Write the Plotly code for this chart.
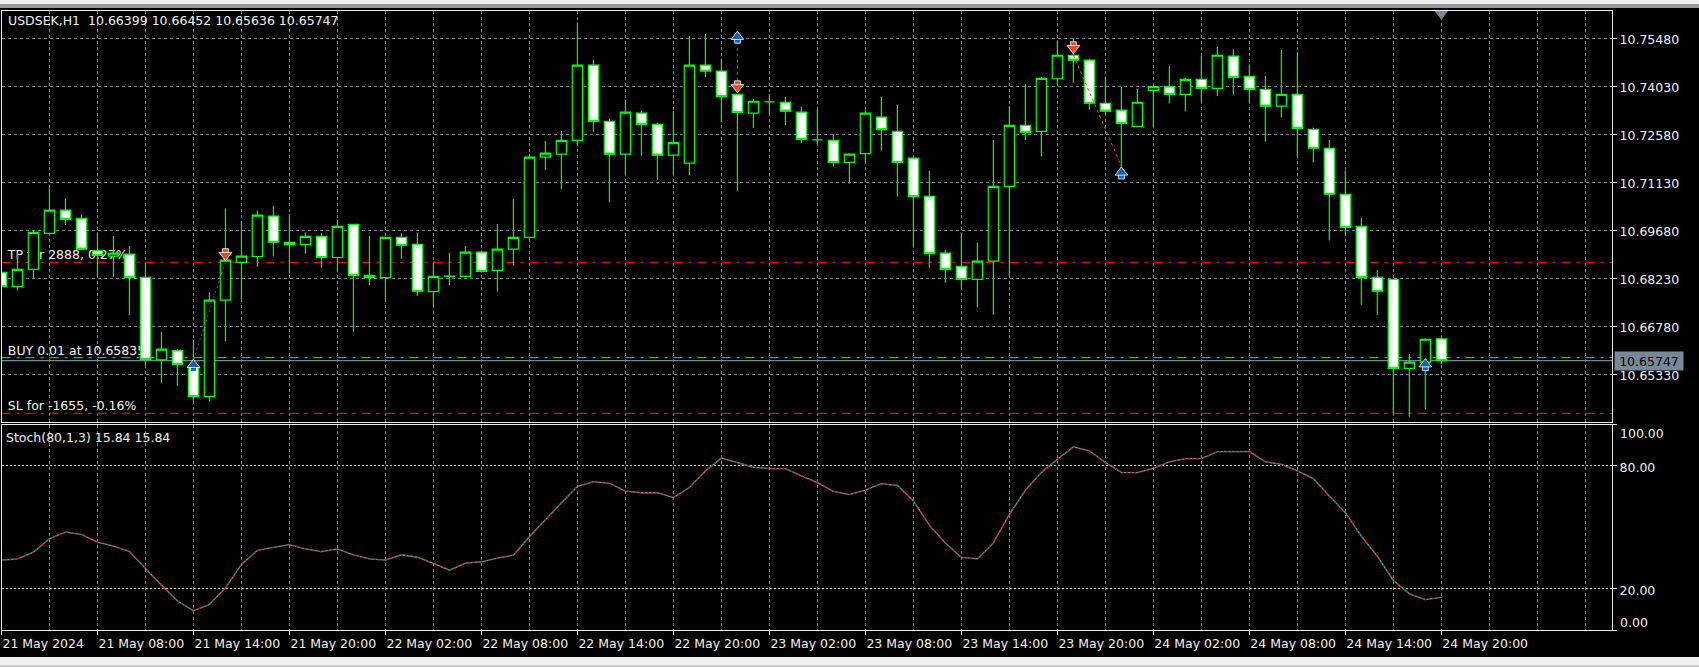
import pandas as pd
import plotly.graph_objects as go

W, H = 1699, 667

times = pd.date_range("2024-05-21 02:00", periods=91, freq="h")

opens = [10.6841,10.6798,10.6850,10.6959,10.7029,10.7004,10.6907,10.6890,10.6896,10.6826,
         10.6577,10.6605,10.6559,10.6466,10.6757,10.6871,10.6889,10.7011,10.6932,10.6925,
         10.6950,10.6886,10.6986,10.6832,10.6825,10.6947,10.6926,10.6783,10.6829,10.6829,
         10.6902,10.6847,10.6911,10.6947,10.7189,10.7198,10.7240,10.7467,10.7297,10.7198,
         10.7322,10.7288,10.7195,10.7171,10.7467,10.7449,10.7379,10.7322,10.7356,10.7355,
         10.7325,10.7241,10.7240,10.7173,10.7200,10.7310,10.7267,10.7186,10.7071,10.6899,
         10.6859,10.6820,10.6875,10.7101,10.7285,10.7267,10.7426,10.7497,10.7482,10.7352,
         10.7331,10.7282,10.7391,10.7402,10.7379,10.7424,10.7397,10.7494,10.7433,10.7394,
         10.7343,10.7379,10.7273,10.7216,10.7077,10.6980,10.6826,10.6820,10.6551,10.6570,
         10.66399]
highs = [10.6841,10.6899,10.6969,10.7095,10.7065,10.7015,10.6962,10.6951,10.6921,10.6871,
         10.6661,10.6609,10.6637,10.6781,10.7035,10.6996,10.7028,10.7042,10.7017,10.6962,
         10.6959,10.6999,10.6986,10.6951,10.6947,10.6959,10.6960,10.6873,10.6900,10.6921,
         10.6907,10.6987,10.7062,10.7199,10.7238,10.7268,10.7596,10.7483,10.7305,10.7362,
         10.7329,10.7293,10.7329,10.7555,10.7561,10.7486,10.7379,10.7365,10.7379,10.7371,
         10.7341,10.7334,10.7258,10.7201,10.7331,10.7371,10.7347,10.7186,10.7147,10.6909,
         10.6961,10.6930,10.7241,10.7343,10.7410,10.7431,10.7542,10.7548,10.7486,10.7432,
         10.7400,10.7395,10.7404,10.7465,10.7428,10.7495,10.7522,10.7515,10.7470,10.7434,
         10.7513,10.7506,10.7279,10.7241,10.7149,10.7005,10.6848,10.6820,10.6595,10.6643,
         10.66452]
lows = [10.6798,10.6786,10.6820,10.6956,10.6984,10.6909,10.6828,10.6828,10.6712,10.6558,
        10.6508,10.6498,10.6453,10.6451,10.6634,10.6760,10.6858,10.6889,10.6838,10.6897,
        10.6855,10.6846,10.6662,10.6803,10.6758,10.6882,10.6770,10.6736,10.6803,10.6826,
        10.6840,10.6783,10.6861,10.6937,10.7150,10.7094,10.7224,10.7266,10.7052,10.7138,
        10.7194,10.7120,10.7137,10.7135,10.7431,10.7296,10.7088,10.7277,10.7318,10.7286,
        10.7232,10.7228,10.7161,10.7109,10.7173,10.7209,10.7070,10.6921,10.6855,10.6810,
        10.6792,10.6735,10.6713,10.6830,10.7241,10.7191,10.7407,10.7414,10.7333,10.7317,
        10.7145,10.7281,10.7281,10.7351,10.7327,10.7356,10.7374,10.7378,10.7355,10.7236,
        10.7309,10.7192,10.7173,10.6937,10.6956,10.6743,10.6712,10.6415,10.6405,10.6427,
        10.65636]
closes = [10.6798,10.6850,10.6962,10.7029,10.7001,10.6911,10.6892,10.6899,10.6825,10.6578,
          10.6609,10.6563,10.6466,10.6757,10.6878,10.6890,10.7014,10.6932,10.6925,10.6950,
          10.6886,10.6980,10.6831,10.6825,10.6947,10.6923,10.6784,10.6829,10.6830,10.6902,
          10.6844,10.6911,10.6947,10.7189,10.7201,10.7240,10.7467,10.7297,10.7198,10.7325,
          10.7288,10.7195,10.7233,10.7467,10.7449,10.7372,10.7324,10.7358,10.7356,10.7328,
          10.7243,10.7241,10.7173,10.7198,10.7322,10.7272,10.7173,10.7070,10.6898,10.6850,
          10.6820,10.6875,10.7101,10.7285,10.7264,10.7427,10.7497,10.7482,10.7352,10.7328,
          10.7291,10.7355,10.7402,10.7379,10.7424,10.7397,10.7497,10.7430,10.7394,10.7343,
          10.7379,10.7276,10.7216,10.7077,10.6977,10.6825,10.6784,10.6551,10.6570,10.6639,
          10.65747]
stoch = [34.0,34.6,37.9,44.4,47.6,46.5,42.8,40.8,38.2,29.8,21.8,14.1,9.3,12.4,20.5,31.9,
         38.7,40.2,41.5,39.5,38.1,39.5,36.6,34.6,34.0,36.6,35.4,32.4,29.1,32.5,33.2,35.0,
         36.4,45.4,53.8,61.9,69.8,72.2,71.4,67.6,66.8,66.8,64.4,69.3,77.4,83.7,81.5,79.2,
         78.5,78.5,75.0,71.7,67.5,65.9,68.1,71.2,70.4,62.8,50.9,42.4,35.3,34.6,42.4,56.3,
         68.1,76.6,83.1,89.1,87.2,81.5,76.7,76.6,78.7,81.8,83.4,83.4,86.8,86.8,86.8,81.9,
         80.6,77.4,73.7,65.2,57.1,45.7,35.9,24.1,17.6,14.8,15.84]

price_ticks = [10.75480,10.74030,10.72580,10.71130,10.69680,10.68230,10.66780,10.65330]
stoch_ticks = [80,20]
time_ticks = pd.date_range("2024-05-21 02:00", periods=16, freq="6h")
time_labels = ["21 May 2024","21 May 08:00","21 May 14:00","21 May 20:00","22 May 02:00",
               "22 May 08:00","22 May 14:00","22 May 20:00","23 May 02:00","23 May 08:00",
               "23 May 14:00","23 May 20:00","24 May 02:00","24 May 08:00","24 May 14:00",
               "24 May 20:00"]
grid_times = pd.date_range("2024-05-21 05:00", periods=33, freq="3h")

tp_level, buy_level, sl_level, last_price = 10.6871, 10.65835, 10.6415, 10.65747
level_text = ["TP for 2888, 0.27%", "BUY 0.01 at 10.65835", "SL for -1655, -0.16%"]
level_text_y = [10.6890, 10.6600, 10.6434]

buy_times = [times[12], times[46], times[70], times[89]]
buy_y = [10.6562, 10.7553, 10.7143, 10.6564]
sell_times = [times[14], times[46], times[67]]
sell_y = [10.6893, 10.7400, 10.7518]
stem_offset = 0.00106
trade_blue = ([times[12], times[14]], [10.6578, 10.6873])
trade_red = [([times[46], times[46]], [10.7538, 10.7412]),
             ([times[67], times[70]], [10.7498, 10.7162])]

PX = lambda px: px / W
PY = lambda py: 1 - py / H
GREEN = "#00ff00"
SLATE = "#778899"
TXT = "#f2f2f2"
FONT = "DejaVu Sans"
FS = 12.5
BLUE = "#0f62ae"
RED = "#e8472a"
x_range = ["2024-05-21 02:00:10", "2024-05-25 06:40:00"]
price_range = [10.6390, 10.76321]
x_dom = [PX(1.5), PX(1612)]
top_dom = [PY(421.7), PY(10.5)]
bot_dom = [PY(630), PY(424.5)]

fig = go.Figure()

# underlay (base axes): horizontal levels and their captions, below the candles
for level, color, dash in [(tp_level, "#ff0000", "9px,6px,3px,6px"),
                           (buy_level, "#00d800", "9px,6px,3px,6px"),
                           (sl_level, "#ff0000", "9px,6px,3px,6px"),
                           (last_price, SLATE, "solid")]:
    fig.add_trace(go.Scatter(x=x_range, y=[level, level], mode="lines",
                             line=dict(color=color, width=1.2, dash=dash),
                             xaxis="x", yaxis="y", hoverinfo="skip"))
fig.add_trace(go.Scatter(x=["2024-05-21 02:24"] * 3, y=level_text_y, mode="text",
                         text=level_text, textposition="middle right",
                         textfont=dict(family=FONT, size=FS, color=TXT),
                         xaxis="x", yaxis="y", hoverinfo="skip"))

# candles on an overlay of the price axis
fig.add_trace(go.Candlestick(x=times, open=opens, high=highs, low=lows, close=closes,
                             xaxis="x", yaxis="y3", whiskerwidth=0,
                             increasing=dict(fillcolor="#000000", line=dict(color=GREEN, width=1.2)),
                             decreasing=dict(fillcolor="#ffffff", line=dict(color=GREEN, width=1.2))))

# trades
fig.add_trace(go.Scatter(x=trade_blue[0], y=trade_blue[1], mode="lines", xaxis="x", yaxis="y3",
                         line=dict(color="#1464b4", width=1, dash="2px,3px"), hoverinfo="skip"))
for tx, ty in trade_red:
    fig.add_trace(go.Scatter(x=tx, y=ty, mode="lines", xaxis="x", yaxis="y3",
                             line=dict(color=RED, width=1, dash="3px,3px"), hoverinfo="skip"))
# arrows: stem (square) then head (triangle)
outline = dict(color="#ffffff", width=0.8)
fig.add_trace(go.Scatter(x=buy_times, y=[v - stem_offset for v in buy_y], mode="markers",
                         xaxis="x", yaxis="y3", hoverinfo="skip",
                         marker=dict(symbol="square", size=6, color=BLUE, line=outline)))
fig.add_trace(go.Scatter(x=buy_times, y=buy_y, mode="markers", xaxis="x", yaxis="y3", hoverinfo="skip",
                         marker=dict(symbol="triangle-up", size=11, color=BLUE, line=outline)))
fig.add_trace(go.Scatter(x=sell_times, y=[v + stem_offset for v in sell_y], mode="markers",
                         xaxis="x", yaxis="y3", hoverinfo="skip",
                         marker=dict(symbol="square", size=6, color=RED, line=outline)))
fig.add_trace(go.Scatter(x=sell_times, y=sell_y, mode="markers", xaxis="x", yaxis="y3", hoverinfo="skip",
                         marker=dict(symbol="triangle-down", size=11, color=RED, line=outline)))
# chart-shift marker at the top of the pane
fig.add_trace(go.Scatter(x=[times[90]], y=[10.7622], mode="markers", xaxis="x", yaxis="y3",
                         marker=dict(symbol="triangle-down", size=12, color=SLATE, line=dict(width=0)),
                         hoverinfo="skip"))

# stochastic pane
fig.add_trace(go.Scatter(x=times, y=stoch, mode="lines", xaxis="x2", yaxis="y2",
                         line=dict(color="#20b2aa", width=1.3), hoverinfo="skip"))
fig.add_trace(go.Scatter(x=times, y=stoch, mode="lines", xaxis="x2", yaxis="y2",
                         line=dict(color="#ff0000", width=1.3, dash="2px,2px"), hoverinfo="skip"))

vgrid = dict(showgrid=True, gridcolor=SLATE, griddash="3px,3px", gridwidth=1)
common_x = dict(type="date", range=x_range, domain=x_dom, tickmode="array",
                showline=True, mirror=True, linecolor="#ececec", linewidth=1, zeroline=False,
                rangeslider=dict(visible=False), **vgrid,
                minor=dict(tickmode="array", tickvals=list(grid_times), ticks="", **vgrid))

fig.update_layout(
    width=W, height=H, margin=dict(l=0, r=0, t=0, b=0, autoexpand=False),
    paper_bgcolor="#000000", plot_bgcolor="#000000", showlegend=False,
    boxgap=0.36, boxgroupgap=0,
    font=dict(family=FONT, size=FS, color=TXT),
    xaxis=dict(anchor="y", tickvals=list(time_ticks), ticktext=[""] * len(time_ticks), ticks="", **common_x),
    xaxis2=dict(anchor="y2", tickvals=list(time_ticks), ticktext=time_labels, ticks="outside",
                ticklen=4, tickcolor="#ececec", ticklabelposition="outside right",
                ticklabelstandoff=2, tickangle=0,
                tickfont=dict(family=FONT, size=FS, color=TXT), **common_x),
    yaxis=dict(anchor="x", domain=top_dom, range=price_range, side="right", tickmode="array",
               tickvals=price_ticks, ticktext=[f"{v:.5f}" for v in price_ticks],
               ticks="outside", ticklen=4, tickcolor="#ececec", showline=True, mirror=True,
               ticklabelshift=1,
               linecolor="#ececec", zeroline=False, showgrid=True, gridcolor=SLATE,
               griddash="3px,3px", tickfont=dict(family=FONT, size=FS, color=TXT)),
    yaxis3=dict(anchor="x", overlaying="y", domain=top_dom, range=price_range, side="right",
                visible=False),
    yaxis2=dict(anchor="x2", domain=bot_dom, range=[0, 100], side="right", tickmode="array",
                tickvals=stoch_ticks + [100, 0], ticktext=["80.00", "20.00", "", ""],
                ticks="outside", ticklen=4, tickcolor="#ececec", showline=True, mirror=True,
                ticklabelshift=2,
                linecolor="#ececec", zeroline=False, showgrid=True, gridcolor="#d8d8d8",
                griddash="2px,2px", tickfont=dict(family=FONT, size=FS, color=TXT)),
    shapes=[
        dict(type="rect", xref="paper", yref="paper", x0=0, x1=1, y0=PY(8), y1=1,
             fillcolor="#f0f0f0", line_width=0, layer="above"),
        dict(type="rect", xref="paper", yref="paper", x0=0, x1=1, y0=PY(8), y1=PY(4),
             fillcolor="#9a9a9a", line_width=0, layer="above"),
        dict(type="rect", xref="paper", yref="paper", x0=0, x1=1, y0=0, y1=PY(657),
             fillcolor="#f0f0f0", line_width=0, layer="above"),
        dict(type="rect", xref="paper", yref="paper", x0=0, x1=1, y0=0, y1=PY(665),
             fillcolor="#c8c8c8", line_width=0, layer="above"),
    ],
    annotations=[
        dict(xref="paper", yref="paper", x=PX(6), y=PY(21), xanchor="left", yanchor="middle",
             showarrow=False, text="USDSEK,H1  10.66399 10.66452 10.65636 10.65747",
             font=dict(family=FONT, size=FS, color=TXT)),
        dict(xref="paper", yref="paper", x=PX(4), y=PY(437), xanchor="left", yanchor="middle",
             showarrow=False, text="Stoch(80,1,3) 15.84 15.84",
             font=dict(family=FONT, size=FS, color=TXT)),
        dict(xref="paper", yref="y2", x=PX(1618), y=100, yshift=-9, xanchor="left", yanchor="middle",
             showarrow=False, text="100.00", font=dict(family=FONT, size=FS, color=TXT)),
        dict(xref="paper", yref="y2", x=PX(1618), y=0, yshift=8, xanchor="left", yanchor="middle",
             showarrow=False, text="0.00", font=dict(family=FONT, size=FS, color=TXT)),
        dict(xref="paper", yref="y", x=PX(1614), y=last_price, xanchor="left", yanchor="middle",
             showarrow=False, text="10.65747", bgcolor=SLATE, borderpad=1, width=66, height=16,
             font=dict(family=FONT, size=FS, color="#000000")),
    ],
)

fig.write_html("out.html", config={"displayModeBar": False},
               post_script="document.body.style.margin='0';document.body.style.background='#000';")
